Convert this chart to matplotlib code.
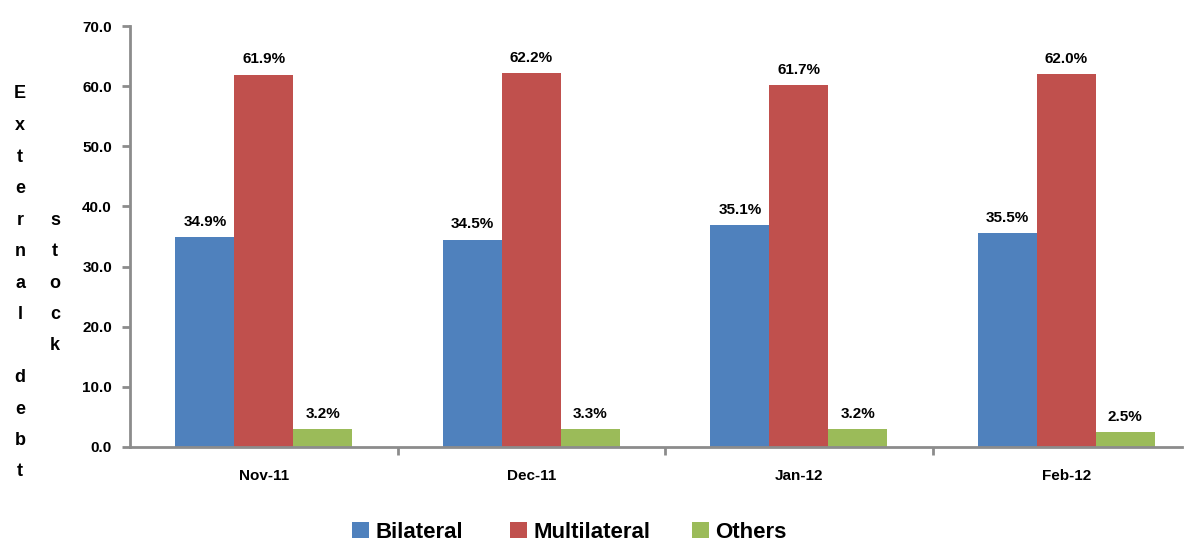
import numpy as np
import matplotlib.pyplot as plt
from matplotlib.ticker import FormatStrFormatter

months = ['Nov-11', 'Dec-11', 'Jan-12', 'Feb-12']
series = ['Bilateral', 'Multilateral', 'Others']

# bar heights as drawn
bilateral = [34.9, 34.5, 36.9, 35.5]
multilateral = [61.9, 62.2, 60.2, 62.0]
others = [3.0, 3.0, 3.0, 2.5]

# printed labels (shares)
bilateral_lbl = ['34.9%', '34.5%', '35.1%', '35.5%']
multilateral_lbl = ['61.9%', '62.2%', '61.7%', '62.0%']
others_lbl = ['3.2%', '3.3%', '3.2%', '2.5%']

colors = ['#4F81BD', '#C0504D', '#9BBB59']
font = ['Liberation Sans Narrow', 'Liberation Sans', 'DejaVu Sans']
plt.rcParams['font.family'] = font
plt.rcParams['font.weight'] = 'bold'

fig = plt.figure(figsize=(11.9, 5.42), dpi=100)
W, H = 1190, 542
right_px = 1182
ax = fig.add_axes([130 / W, 95 / H, (right_px - 130) / W, 421 / H])

x = np.arange(len(months))
width = 0.22
bars = []
for k, (vals, lbls) in enumerate(zip([bilateral, multilateral, others],
                                      [bilateral_lbl, multilateral_lbl, others_lbl])):
    b = ax.bar(x + (k - 1) * width, vals, width, color=colors[k], label=series[k])
    bars.append(b)
    for rect, t in zip(b, lbls):
        ax.annotate(t, (rect.get_x() + rect.get_width() / 2, rect.get_height()),
                    xytext=(0, 11), textcoords='offset points',
                    ha='center', va='center', fontsize=11, fontweight='bold')

ax.set_xlim(-0.5, -0.5 + (right_px - 130) / 267.5)
ax.set_ylim(0, 70)
ax.set_yticks(np.arange(0, 71, 10))
ax.yaxis.set_major_formatter(FormatStrFormatter('%.1f'))

ax.set_xticks(x)
ax.set_xticklabels(months)
ax.set_xticks([0.5, 1.5, 2.5], minor=True)
ax.tick_params(axis='x', which='major', length=0, pad=16, labelsize=11)
ax.tick_params(axis='x', which='minor', length=6, width=2, color='#8C8C8C', direction='out')
ax.tick_params(axis='y', length=6, width=2, color='#8C8C8C', pad=7, labelsize=11)

for s in ['top', 'right']:
    ax.spines[s].set_visible(False)
for s in ['left', 'bottom']:
    ax.spines[s].set_color('#8C8C8C')
    ax.spines[s].set_linewidth(2)

# stacked axis title
col1 = 'External debt'
col2 = 'stock'
step = 31.5
mid = 283
for cx, word in [(20, col1), (55, col2)]:
    n = len(word)
    for i, ch in enumerate(word):
        yy = mid + (i - (n - 1) / 2) * step
        fig.text(cx / W, 1 - yy / H, ch, ha='center', va='center',
                 fontsize=13, fontweight='bold')

# legend entries placed at fixed slots like the original
slots = [352, 510, 692]
for b, name, sx in zip(bars, series, slots):
    fig.legend(handles=[b], labels=[name], loc='center left',
               bbox_to_anchor=(sx / W, 1 - 532 / H), frameon=False,
               borderpad=0, borderaxespad=0, handlelength=0.75, handleheight=0.75,
               handletextpad=0.3, prop={'weight': 'bold', 'size': 16})

fig.savefig('out.png', dpi=100)
